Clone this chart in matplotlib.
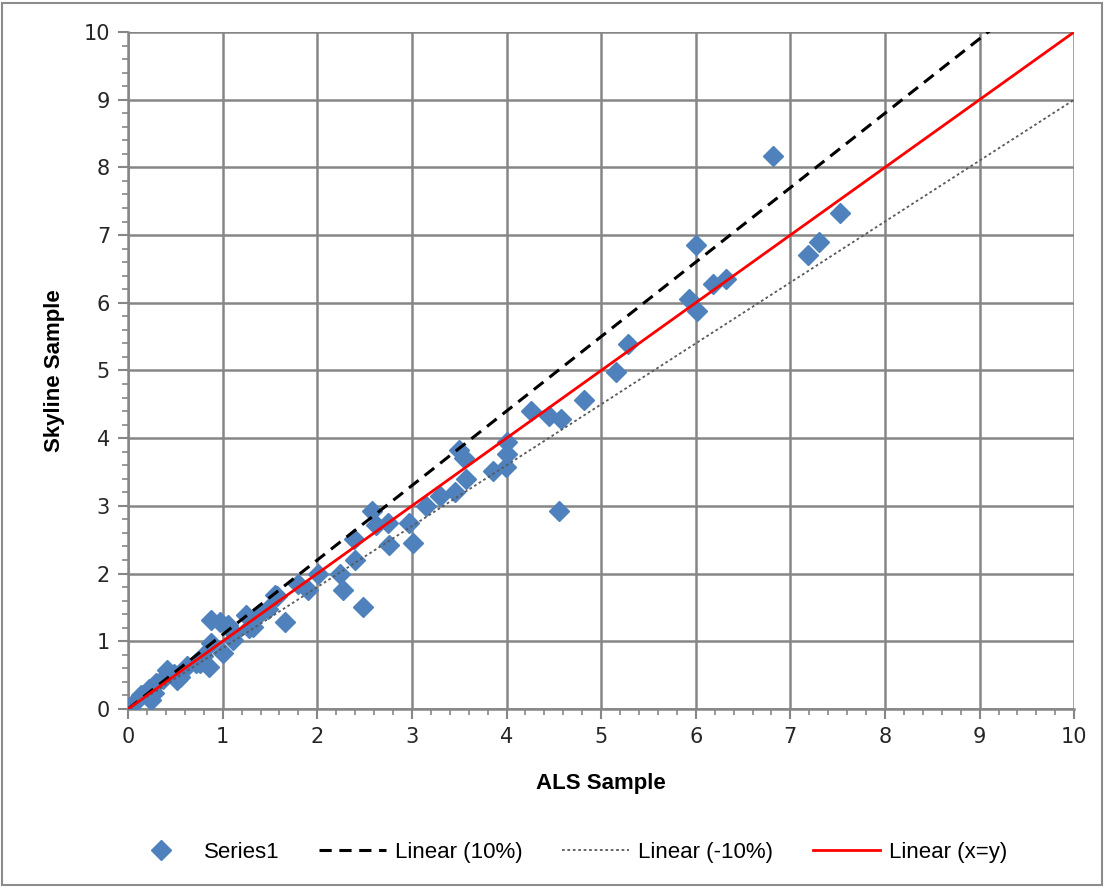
import matplotlib.pyplot as plt
from matplotlib.patches import Rectangle
import numpy as np

als = [0.00, 0.02, 0.08, 0.14, 0.22, 0.24, 0.27, 0.30, 0.37, 0.41, 0.49, 0.52, 0.55,
       0.62, 0.72, 0.76, 0.79, 0.86, 0.88, 0.88, 0.97, 1.00, 1.06, 1.11, 1.12, 1.25,
       1.28, 1.32, 1.38, 1.48, 1.55, 1.57, 1.66, 1.80, 1.90, 2.01, 2.24, 2.27, 2.39,
       2.40, 2.48, 2.58, 2.62, 2.75, 2.76, 2.97, 3.01, 3.15, 3.30, 3.46, 3.50, 3.55,
       3.57, 3.86, 3.99, 4.00, 4.00, 4.26, 4.45, 4.56, 4.58, 4.82, 5.16, 5.28, 5.93,
       6.00, 6.01, 6.18, 6.32, 6.82, 7.19, 7.30, 7.52]
skyline = [0.00, 0.03, 0.12, 0.20, 0.30, 0.13, 0.23, 0.38, 0.45, 0.58, 0.52, 0.43, 0.47,
           0.63, 0.68, 0.68, 0.78, 0.62, 1.31, 0.98, 1.28, 0.83, 1.24, 1.02, 1.12, 1.39,
           1.20, 1.21, 1.40, 1.48, 1.68, 1.67, 1.28, 1.85, 1.76, 2.00, 1.99, 1.76, 2.51,
           2.20, 1.50, 2.93, 2.72, 2.75, 2.42, 2.75, 2.45, 3.00, 3.14, 3.20, 3.83, 3.70,
           3.40, 3.52, 3.58, 3.76, 3.95, 4.40, 4.33, 2.92, 4.28, 4.57, 4.98, 5.39, 6.05,
           6.86, 5.88, 6.28, 6.35, 8.17, 6.70, 6.90, 7.32]

line_x = np.array([0, 10])
slope_plus = 1.1
slope_minus = 0.9
slope_equal = 1.0

plt.rcParams['font.family'] = ['Liberation Sans', 'DejaVu Sans']

fig = plt.figure(figsize=(11.04, 8.88), dpi=100)
ax = fig.add_axes([0.116, 0.2016, 0.857, 0.7624])

grid_c = '#868686'
ax.plot(als, skyline, linestyle='none', marker='D', markersize=10.5,
        color='#4F81BD', label='Series1', zorder=3)
ax.plot(line_x, slope_plus * line_x, color='black', linestyle=(0, (4, 2.5)),
        linewidth=2.2, label='Linear (10%)', zorder=4)
ax.plot(line_x, slope_minus * line_x, color='#595959', linestyle=(0, (1.5, 1.5)),
        linewidth=1.3, label='Linear (-10%)', zorder=4)
ax.plot(line_x, slope_equal * line_x, color='#FF0000', linewidth=2,
        label='Linear (x=y)', zorder=4)

ax.set_xlim(0, 10)
ax.set_ylim(0, 10)
ax.set_xticks(range(0, 11))
ax.set_yticks(range(0, 11))
ax.set_xticks(np.arange(0, 10.01, 0.2), minor=True)
ax.set_yticks(np.arange(0, 10.01, 0.2), minor=True)
ax.grid(True, which='major', color=grid_c, linewidth=1.8, zorder=1)
ax.set_axisbelow(True)
for side in ['top', 'right']:
    ax.spines[side].set_visible(False)
for side in ['left', 'bottom']:
    ax.spines[side].set_color(grid_c)
    ax.spines[side].set_linewidth(1.8)
ax.tick_params(which='major', direction='out', length=7, width=1.5, color=grid_c,
               labelsize=15, labelcolor='#262626', pad=6)
ax.tick_params(which='minor', direction='out', length=4, width=1.2, color=grid_c)
for lab in ax.get_xticklabels() + ax.get_yticklabels():
    lab.set_family('DejaVu Sans')

ax.set_xlabel('ALS Sample', fontsize=16, fontweight='bold', labelpad=19)
ax.set_ylabel('Skyline Sample', fontsize=16, fontweight='bold', labelpad=13)

fig.legend(loc='center', bbox_to_anchor=(0.514, 0.04), ncol=4, frameon=False,
           fontsize=16, handlelength=3.0, columnspacing=1.8, handletextpad=0.4)

fig.patches.append(Rectangle((0.002, 0.003), 0.996, 0.994, transform=fig.transFigure,
                             fill=False, edgecolor='#8c8c8c', linewidth=1.5))

fig.savefig('out.png', dpi=100)
